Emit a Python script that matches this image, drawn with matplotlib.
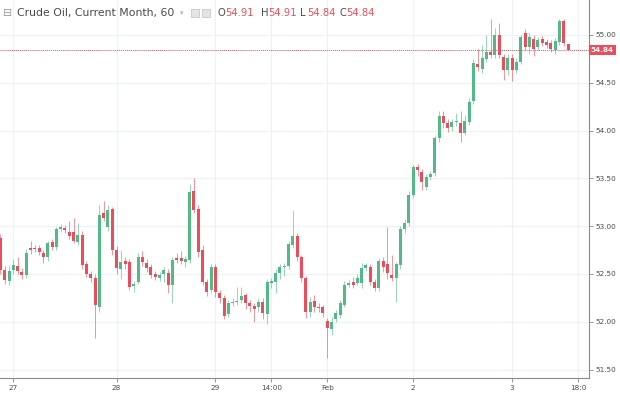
import matplotlib
matplotlib.use("Agg")
import matplotlib.pyplot as plt
import matplotlib.transforms as mtransforms
import numpy as np

# hourly OHLC
opens = [52.88, 52.54, 52.43, 52.54, 52.58, 52.52, 52.49, 52.77, 52.77, 52.77,
         52.72, 52.68, 52.83, 52.78, 52.97, 52.98, 52.94, 52.94, 52.83, 52.91,
         52.60, 52.50, 52.46, 52.15, 53.14, 52.99, 53.18, 52.75, 52.55, 52.64,
         52.63, 52.37, 52.42, 52.68, 52.62, 52.57, 52.50, 52.46, 52.50, 52.51,
         52.38, 52.67, 52.67, 52.63, 52.65, 53.37, 53.18, 52.75, 52.42, 52.33,
         52.57, 52.30, 52.25, 52.08, 52.20, 52.21, 52.23, 52.28, 52.20, 52.17,
         52.15, 52.21, 52.08, 52.41, 52.42, 52.51, 52.57, 52.58, 52.80, 52.90,
         52.68, 52.46, 52.10, 52.22, 52.15, 52.15, 52.01, 51.92, 52.03, 52.07,
         52.18, 52.38, 52.42, 52.41, 52.41, 52.56, 52.57, 52.42, 52.35, 52.64,
         52.60, 52.49, 52.46, 52.59, 52.97, 53.03, 53.33, 53.62, 53.57, 53.41,
         53.51, 53.56, 53.92, 54.15, 54.08, 54.04, 54.09, 54.08, 53.97, 54.09,
         54.31, 54.70, 54.64, 54.75, 54.82, 54.79, 55.00, 54.77, 54.63, 54.76,
         54.63, 54.72, 55.02, 54.87, 54.96, 54.87, 54.96, 54.93, 54.92, 54.84,
         54.93, 55.15, 54.91]
closes = [52.54, 52.44, 52.53, 52.59, 52.53, 52.49, 52.72, 52.75, 52.76, 52.73,
          52.68, 52.82, 52.78, 52.97, 52.99, 52.96, 52.90, 52.85, 52.91, 52.59,
          52.50, 52.46, 52.18, 53.12, 53.09, 53.17, 52.75, 52.56, 52.63, 52.60,
          52.36, 52.40, 52.68, 52.63, 52.56, 52.49, 52.47, 52.49, 52.54, 52.38,
          52.65, 52.65, 52.64, 52.66, 53.36, 53.17, 52.73, 52.42, 52.31, 52.57,
          52.31, 52.25, 52.06, 52.20, 52.21, 52.22, 52.27, 52.20, 52.17, 52.13,
          52.21, 52.09, 52.42, 52.42, 52.51, 52.57, 52.58, 52.81, 52.90, 52.68,
          52.46, 52.10, 52.21, 52.15, 52.14, 52.09, 51.94, 52.00, 52.09, 52.20,
          52.38, 52.41, 52.38, 52.46, 52.56, 52.59, 52.42, 52.35, 52.64, 52.57,
          52.51, 52.46, 52.60, 52.97, 53.03, 53.33, 53.62, 53.59, 53.46, 53.51,
          53.55, 53.92, 54.15, 54.08, 54.03, 54.09, 54.10, 53.97, 54.10, 54.30,
          54.71, 54.67, 54.76, 54.82, 54.79, 55.00, 54.79, 54.63, 54.76, 54.63,
          54.72, 54.98, 54.87, 54.98, 54.85, 54.95, 54.92, 54.90, 54.85, 54.94,
          55.15, 54.92, 54.84]
highs = [52.92, 52.58, 52.58, 52.66, 52.68, 52.56, 52.76, 52.84, 52.80, 52.80,
         52.75, 52.85, 52.87, 52.99, 53.02, 53.01, 53.05, 53.09, 53.03, 52.95,
         52.64, 52.53, 52.50, 53.22, 53.26, 53.22, 53.20, 52.79, 52.75, 52.68,
         52.66, 52.43, 52.72, 52.74, 52.66, 52.60, 52.53, 52.52, 52.57, 52.55,
         52.68, 52.72, 52.74, 52.69, 53.44, 53.50, 53.22, 52.80, 52.45, 52.60,
         52.60, 52.33, 52.28, 52.23, 52.25, 52.36, 52.36, 52.30, 52.23, 52.20,
         52.25, 52.25, 52.45, 52.46, 52.55, 52.60, 52.62, 52.84, 53.17, 52.93,
         52.70, 52.48, 52.26, 52.28, 52.20, 52.18, 52.04, 52.05, 52.12, 52.23,
         52.43, 52.44, 52.47, 52.50, 52.62, 52.62, 52.60, 52.45, 52.67, 52.68,
         52.99, 52.70, 52.63, 53.00, 53.07, 53.37, 53.64, 53.65, 53.60, 53.55,
         53.58, 53.95, 54.21, 54.20, 54.12, 54.12, 54.18, 54.20, 54.16, 54.34,
         54.75, 54.85, 54.90, 55.00, 55.17, 55.07, 55.13, 54.80, 54.80, 54.80,
         54.76, 55.00, 55.06, 55.02, 55.00, 54.98, 54.99, 54.96, 54.95, 54.97,
         55.17, 55.17, 54.91]
lows = [52.50, 52.40, 52.38, 52.50, 52.50, 52.45, 52.46, 52.71, 52.73, 52.70,
        52.62, 52.64, 52.75, 52.75, 52.94, 52.93, 52.87, 52.82, 52.80, 52.55,
        52.47, 52.42, 51.83, 52.10, 53.05, 52.95, 52.70, 52.50, 52.45, 52.55,
        52.33, 52.31, 52.40, 52.58, 52.52, 52.46, 52.44, 52.43, 52.42, 52.30,
        52.20, 52.62, 52.60, 52.57, 52.62, 53.14, 52.68, 52.38, 52.27, 52.30,
        52.26, 52.20, 52.03, 52.05, 52.17, 52.18, 52.20, 52.13, 52.10, 52.00,
        52.10, 52.03, 51.98, 52.35, 52.30, 52.45, 52.48, 52.55, 52.77, 52.64,
        52.42, 52.04, 52.05, 52.10, 52.10, 52.05, 51.62, 51.86, 52.00, 52.04,
        52.15, 52.36, 52.35, 52.38, 52.35, 52.53, 52.38, 52.32, 52.32, 52.52,
        52.45, 52.43, 52.21, 52.55, 52.93, 53.00, 53.30, 53.52, 53.38, 53.38,
        53.48, 53.53, 53.88, 54.03, 53.99, 54.00, 54.05, 53.88, 53.95, 54.06,
        54.28, 54.62, 54.60, 54.72, 54.76, 54.76, 54.76, 54.53, 54.58, 54.52,
        54.60, 54.70, 54.84, 54.80, 54.78, 54.84, 54.88, 54.86, 54.82, 54.80,
        54.90, 54.88, 54.84]

time_ticks = [3, 27, 50, 63, 76, 96, 119, 134.3]
time_labels = ["27", "28", "29", "14:00", "Feb", "2", "3", "18:0"]
price_ticks = [51.5, 52.0, 52.5, 53.0, 53.5, 54.0, 54.5, 55.0]
last_price = 54.84

up_col = "#53b987"
down_col = "#eb4d5c"
grid_col = "#eef1f5"
text_col = "#4a4a4a"

o = np.array(opens)
c = np.array(closes)
h = np.array(highs)
l = np.array(lows)
x = np.arange(len(o))
up = c >= o
cols = np.where(up, up_col, down_col)

fig = plt.figure(figsize=(6.2, 3.93), dpi=100)
ax = fig.add_axes([0, 1 - 378 / 393, 589 / 620, 378 / 393])

for t in price_ticks:
    ax.axhline(t, color=grid_col, lw=0.9, zorder=0)
for t in time_ticks:
    ax.axvline(t, color=grid_col, lw=0.9, zorder=0)

ax.vlines(x, l, h, colors=cols, lw=0.7, alpha=0.6, zorder=2)
body = np.maximum(np.abs(c - o), 0.012)
ax.bar(x, body, bottom=np.minimum(o, c), width=0.7, color=cols, lw=0, zorder=3)

ax.axhline(last_price, color=down_col, lw=0.7, ls=(0, (1, 1)), zorder=4)

ax.set_xlim(-0.1, -0.1 + 589 / 4.3)
ax.set_ylim(51.412, 55.366)

ax.yaxis.tick_right()
ax.set_yticks(price_ticks)
ax.set_yticklabels(["%.2f" % t for t in price_ticks])
ax.set_xticks(time_ticks)
ax.set_xticklabels(time_labels)
ax.tick_params(axis="both", labelsize=5.2, labelcolor=text_col, color="#888888",
               length=3, width=0.6, pad=2)

for s in ["top", "left"]:
    ax.spines[s].set_visible(False)
for s in ["right", "bottom"]:
    ax.spines[s].set_color("#8a8a8a")
    ax.spines[s].set_linewidth(0.8)

# current price box on the scale
trans = mtransforms.blended_transform_factory(ax.transAxes, ax.transData)
ax.text(1.003, last_price, "54.84", transform=trans, ha="left", va="center",
        fontsize=5.2, color="white", fontweight="bold", zorder=6, clip_on=False,
        bbox=dict(boxstyle="square,pad=0.3", fc=down_col, ec="none"))

# header
hy = 1 - 13 / 393
fig.text(3 / 620, hy, "\u229f", fontsize=7.8, color="#9a9a9a", va="center")
fig.text(17 / 620, hy, "Crude Oil, Current Month, 60", fontsize=7.8,
         color=text_col, va="center")
fig.text(180 / 620, hy, "\u25be", fontsize=5, color="#b0b0b0", va="center")
for px in [191, 202]:
    fig.patches.append(plt.Rectangle((px / 620, hy - 4 / 393), 8 / 620, 8 / 393,
                                     transform=fig.transFigure, fc="#e4e4e4",
                                     ec="#c8c8c8", lw=0.6))
ohlc_x = [(218, "O", "54.91"), (261, "H", "54.91"), (300, "L", "54.84"),
          (339, "C", "54.84")]
for px, k, v in ohlc_x:
    fig.text(px / 620, hy, k, fontsize=7.2, color=text_col, va="center")
    fig.text((px + 7) / 620, hy, v, fontsize=7.2, color=down_col, va="center")

fig.savefig("out.png", dpi=100)
